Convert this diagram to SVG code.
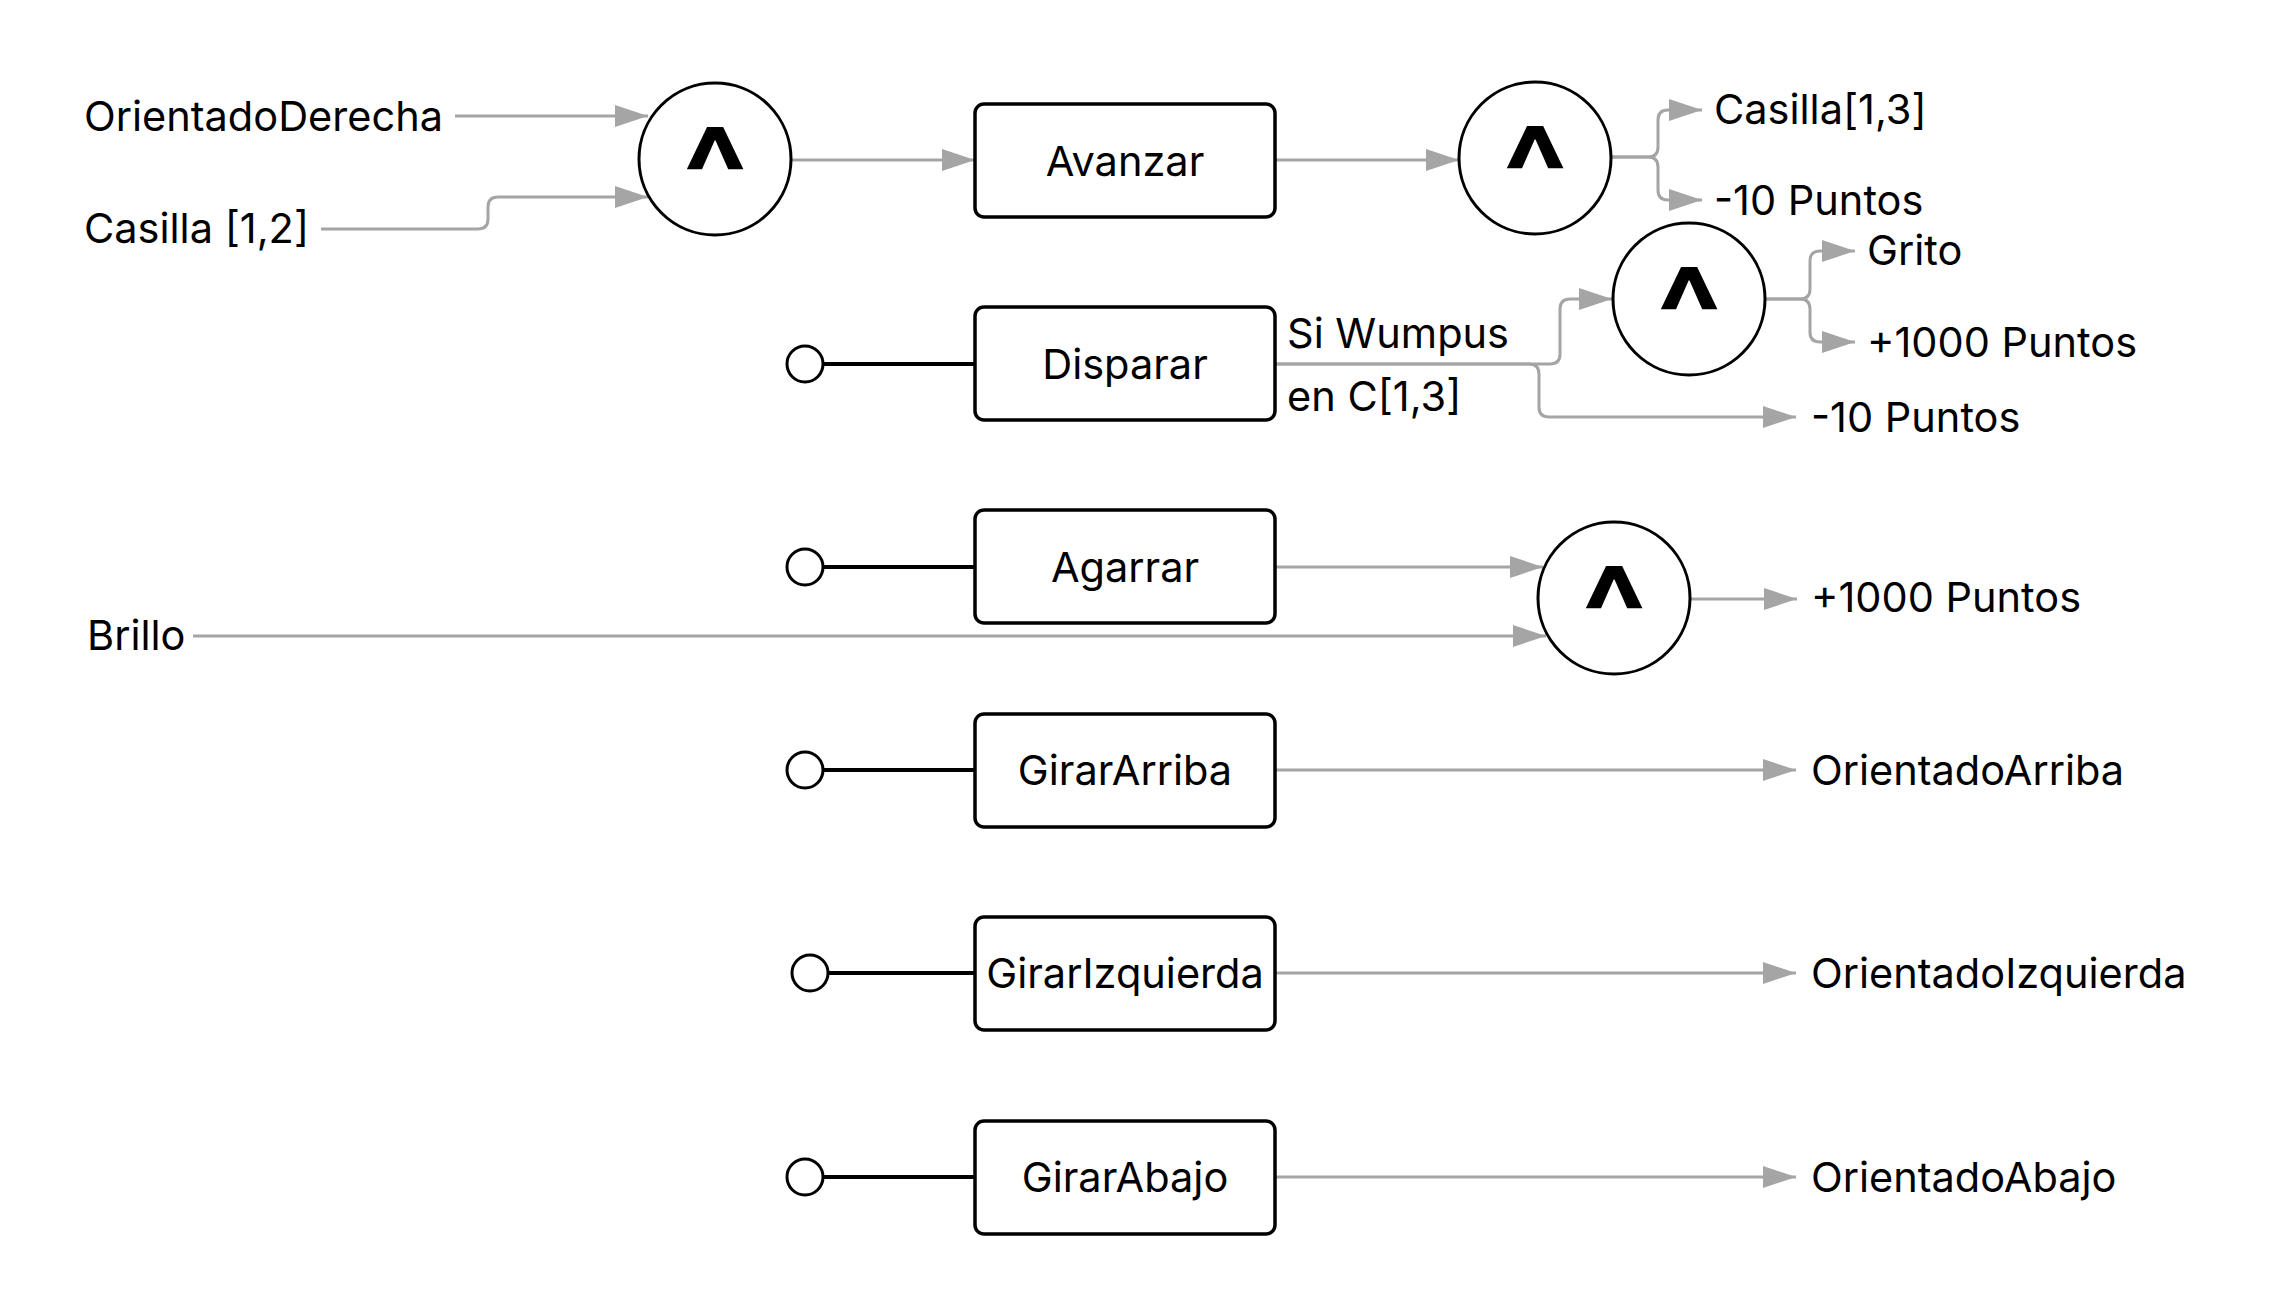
<svg xmlns="http://www.w3.org/2000/svg" width="2271" height="1309" viewBox="0 0 2271 1309">
<style>
text{font-family:Inter,"Liberation Sans",sans-serif;font-size:41.5px;fill:#000}
.lbl{text-anchor:middle}
.and{font-size:135px;font-weight:bold;text-anchor:middle}
.box{fill:#fff;stroke:#000;stroke-width:3.5}
.gate{fill:#fff;stroke:#000;stroke-width:3}
.start{fill:#fff;stroke:#000;stroke-width:3}
.link{fill:none;stroke:#000;stroke-width:4}
.c{fill:none;stroke:#a5a5a5;stroke-width:3;marker-end:url(#arr)}
</style>
<defs>
<marker id="arr" markerUnits="userSpaceOnUse" markerWidth="34" markerHeight="24" refX="33" refY="11" orient="auto">
<path d="M0,0 L33,11 L0,22 z" fill="#a5a5a5"/>
</marker>
</defs>
<rect width="2271" height="1309" fill="#fff"/>
<g id="connectors">
<path class="c" d="M455,116 H648"/>
<path class="c" d="M321,229 H478 Q488,229 488,219 V207 Q488,197 498,197 H648"/>
<path class="c" d="M791,160 H975"/>
<path class="c" d="M1275,160 H1459"/>
<path class="c" d="M1611,157 H1648 Q1658,157 1658,147 V120 Q1658,110 1668,110 H1702"/>
<path class="c" d="M1611,157 H1648 Q1658,157 1658,167 V190 Q1658,200 1668,200 H1702"/>
<path class="c" d="M1275,364 H1550 Q1560,364 1560,354 V309 Q1560,299 1570,299 H1612"/>
<path class="c" d="M1275,364 H1529 Q1539,364 1539,374 V407 Q1539,417 1549,417 H1796"/>
<path class="c" d="M1766,299 H1800 Q1810,299 1810,289 V261 Q1810,251 1820,251 H1855"/>
<path class="c" d="M1766,299 H1800 Q1810,299 1810,309 V332 Q1810,342 1820,342 H1855"/>
<path class="c" d="M1275,567 H1543"/>
<path class="c" d="M193,636 H1546"/>
<path class="c" d="M1691,599 H1797"/>
<path class="c" d="M1275,770 H1796"/>
<path class="c" d="M1275,973 H1796"/>
<path class="c" d="M1275,1177 H1796"/>
<path class="link" d="M823,364 H975"/>
<path class="link" d="M823,567 H975"/>
<path class="link" d="M823,770 H975"/>
<path class="link" d="M828,973 H975"/>
<path class="link" d="M823,1177 H975"/>
</g>
<g id="in-orientado-derecha"><text x="84" y="131">OrientadoDerecha</text></g>
<g id="in-casilla12"><text x="84" y="243">Casilla [1,2]</text></g>
<g id="in-brillo"><text x="87" y="650">Brillo</text></g>
<g id="and1"><ellipse class="gate" cx="715" cy="159" rx="76" ry="76"/><text class="and" x="715" y="223">^</text></g>
<g id="and2"><ellipse class="gate" cx="1535" cy="158" rx="76" ry="76"/><text class="and" x="1535" y="222">^</text></g>
<g id="and3"><ellipse class="gate" cx="1689" cy="299" rx="76" ry="76"/><text class="and" x="1689" y="363">^</text></g>
<g id="and4"><ellipse class="gate" cx="1614" cy="598" rx="76" ry="76"/><text class="and" x="1614" y="662">^</text></g>
<g id="avanzar"><rect class="box" x="975" y="104" width="300" height="113" rx="9"/><text class="lbl" x="1125" y="176">Avanzar</text></g>
<g id="start-disparar"><circle class="start" cx="805" cy="364" r="18"/></g>
<g id="disparar"><rect class="box" x="975" y="307" width="300" height="113" rx="9"/><text class="lbl" x="1125" y="379">Disparar</text></g>
<g id="start-agarrar"><circle class="start" cx="805" cy="567" r="18"/></g>
<g id="agarrar"><rect class="box" x="975" y="510" width="300" height="113" rx="9"/><text class="lbl" x="1125" y="582">Agarrar</text></g>
<g id="start-girararriba"><circle class="start" cx="805" cy="770" r="18"/></g>
<g id="girararriba"><rect class="box" x="975" y="714" width="300" height="113" rx="9"/><text class="lbl" x="1125" y="785">GirarArriba</text></g>
<g id="start-girarizquierda"><circle class="start" cx="810" cy="973" r="18"/></g>
<g id="girarizquierda"><rect class="box" x="975" y="917" width="300" height="113" rx="9"/><text class="lbl" x="1125" y="988">GirarIzquierda</text></g>
<g id="start-girarabajo"><circle class="start" cx="805" cy="1177" r="18"/></g>
<g id="girarabajo"><rect class="box" x="975" y="1121" width="300" height="113" rx="9"/><text class="lbl" x="1125" y="1192">GirarAbajo</text></g>
<g id="label-wumpus"><text x="1287" y="348">Si Wumpus</text><text x="1287" y="411">en C[1,3]</text></g>
<g id="out-casilla13"><text x="1714" y="124">Casilla[1,3]</text></g>
<g id="out-menos10a"><text x="1714" y="215">-10 Puntos</text></g>
<g id="out-grito"><text x="1867" y="265">Grito</text></g>
<g id="out-mas1000a"><text x="1867" y="357">+1000 Puntos</text></g>
<g id="out-menos10b"><text x="1811" y="432">-10 Puntos</text></g>
<g id="out-mas1000b"><text x="1811" y="612">+1000 Puntos</text></g>
<g id="out-arriba"><text x="1811" y="785">OrientadoArriba</text></g>
<g id="out-izquierda"><text x="1811" y="988">OrientadoIzquierda</text></g>
<g id="out-abajo"><text x="1811" y="1192">OrientadoAbajo</text></g>
</svg>
